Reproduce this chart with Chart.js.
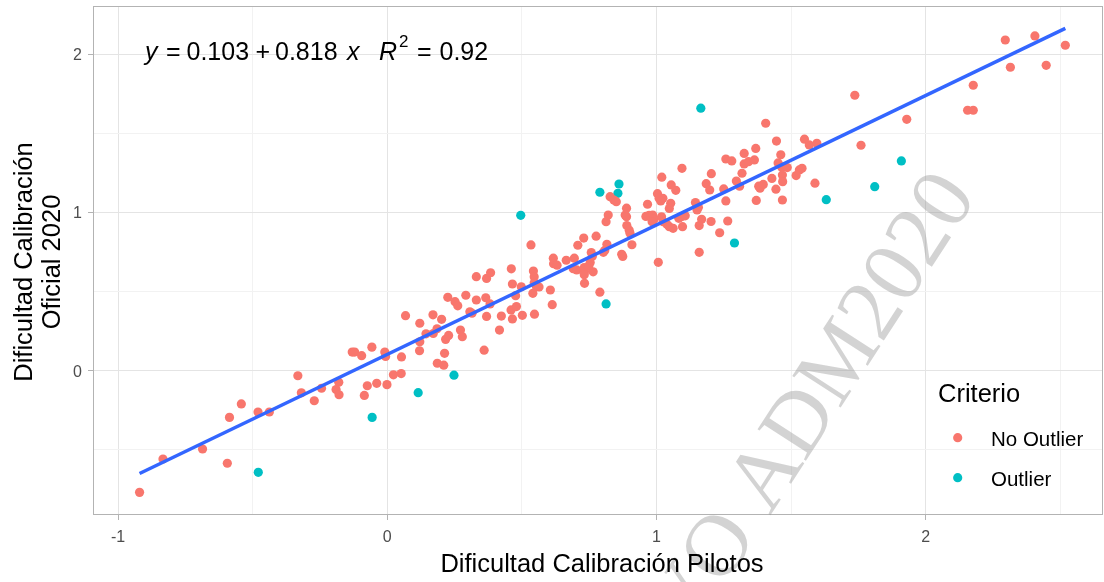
<!DOCTYPE html>
<html>
<head>
<meta charset="utf-8">
<script src="https://cdn.jsdelivr.net/npm/chart.js@4.4.1/dist/chart.umd.min.js"></script>
<style>
html, body { margin: 0; padding: 0; background: #fff; }
</style>
</head>
<body>
<canvas id="chart-calibracion" width="1104" height="582"></canvas>
<script>
// Criterio (leyenda)
const criterios = ['No Outlier', 'Outlier'];
const coloresCriterio = ['#F8766D', '#00BFC4'];

// Dificultad pilotos (x) y oficial 2020 (y)
const pilotosNoOutlier = [
    -0.920, -0.833, -0.686, -0.594, -0.586, -0.542, -0.480, -0.438, -0.332, -0.319,
    -0.271, -0.244, -0.180, -0.190, -0.179, -0.085, -0.074, -0.039, -0.001, 0.023,
    0.052, -0.130, -0.121, -0.095, -0.057, -0.009, -0.006, 0.053, 0.068, 0.121,
    0.121, 0.120, 0.144, 0.170, 0.171, 0.185, 0.202, 0.186, 0.210, 0.213,
    0.217, 0.228, 0.272, 0.279, 0.225, 0.252, 0.262, 0.292, 0.307, 0.315,
    0.331, 0.331, 0.360, 0.369, 0.369, 0.384, 0.366, 0.382, 0.417, 0.424,
    0.461, 0.465, 0.477, 0.460, 0.480, 0.465, 0.502, 0.498, 0.534, 0.543,
    0.546, 0.546, 0.554, 0.564, 0.541, 0.547, 0.606, 0.613, 0.617, 0.618,
    0.631, 0.665, 0.695, 0.691, 0.704, 0.732, 0.733, 0.732, 0.733, 0.765,
    0.790, 0.758, 0.762, 0.754, 0.749, 0.776, 0.730, 0.708, 0.816, 0.808,
    0.803, 0.871, 0.875, 0.909, 0.902, 0.899, 0.890, 0.889, 0.884, 0.889,
    0.813, 0.821, 0.828, 0.842, 0.851, 1.007, 0.967, 0.961, 0.973, 0.986,
    0.991, 0.984, 1.004, 1.010, 1.024, 1.016, 1.020, 1.055, 1.072, 1.095,
    1.019, 1.025, 1.039, 1.048, 1.062, 1.053, 1.048, 1.083, 1.093, 1.107,
    1.097, 1.145, 1.156, 1.151, 1.168, 1.203, 1.159, 1.235, 1.265, 1.258,
    1.250, 1.185, 1.198, 1.204, 1.159, 1.258, 1.280, 1.297, 1.309, 1.318,
    1.326, 1.326, 1.342, 1.364, 1.369, 1.371, 1.380, 1.385, 1.397, 1.429,
    1.444, 1.446, 1.406, 1.468, 1.452, 1.465, 1.462, 1.486, 1.468, 1.469,
    1.519, 1.531, 1.541, 1.589, 1.550, 1.568, 1.596, 1.737, 1.760, 1.930,
    2.156, 2.177, 2.177, 2.296, 2.315, 2.406, 2.448, 2.519
];
const oficialNoOutlier = [
    -0.769, -0.558, -0.495, -0.585, -0.295, -0.210, -0.261, -0.261, -0.032, -0.140,
    -0.190, -0.111, -0.073, -0.119, -0.152, -0.156, -0.095, -0.080, -0.088, -0.026,
    -0.018, 0.118, 0.118, 0.095, 0.149, 0.118, 0.090, 0.087, 0.348, 0.300,
    0.183, 0.126, 0.233, 0.353, 0.235, 0.265, 0.325, 0.047, 0.035, 0.110,
    0.198, 0.223, 0.257, 0.215, 0.464, 0.436, 0.410, 0.477, 0.372, 0.363,
    0.594, 0.447, 0.130, 0.343, 0.583, 0.619, 0.461, 0.422, 0.257, 0.345,
    0.644, 0.548, 0.474, 0.384, 0.405, 0.327, 0.350, 0.530, 0.795, 0.630,
    0.594, 0.556, 0.532, 0.529, 0.489, 0.357, 0.510, 0.417, 0.711, 0.676,
    0.667, 0.698, 0.711, 0.645, 0.637, 0.652, 0.627, 0.607, 0.552, 0.625,
    0.496, 0.747, 0.723, 0.684, 0.662, 0.850, 0.838, 0.793, 0.799, 0.760,
    0.748, 0.736, 0.722, 0.796, 0.869, 0.888, 0.917, 0.973, 0.984, 1.027,
    0.942, 0.984, 1.100, 1.079, 1.068, 0.685, 1.052, 0.975, 0.982, 0.984,
    0.956, 0.942, 1.119, 1.090, 1.090, 1.073, 1.223, 1.174, 1.140, 1.279,
    0.973, 0.942, 0.925, 0.910, 0.900, 1.058, 1.025, 0.963, 0.973, 0.979,
    0.910, 1.063, 1.033, 1.016, 0.957, 0.943, 0.917, 0.872, 0.946, 1.073,
    1.149, 1.182, 1.142, 1.245, 0.748, 1.338, 1.326, 1.199, 1.166, 1.248,
    1.373, 1.307, 1.321, 1.332, 1.405, 1.076, 1.166, 1.153, 1.177, 1.215,
    1.147, 1.451, 1.564, 1.079, 1.313, 1.288, 1.365, 1.284, 1.237, 1.195,
    1.233, 1.269, 1.279, 1.185, 1.463, 1.427, 1.437, 1.741, 1.425, 1.589,
    1.646, 1.646, 1.804, 2.090, 1.918, 2.116, 1.930, 2.057
];
const pilotosOutlier = [-0.479, -0.056, 0.115, 0.248, 0.496, 0.790, 0.861, 0.857, 0.813, 1.165, 1.290, 1.631, 1.811, 1.910];
const oficialOutlier = [-0.642, -0.295, -0.139, -0.028, 0.982, 1.128, 1.180, 1.121, 0.422, 1.659, 0.807, 1.081, 1.163, 1.326];

// Ajuste lineal mostrado en el grafico
const intercepto = 0.103;
const pendiente = 0.818;
const r2 = 0.92;

// Marcas de los ejes
const ticksX = [-1, 0, 1, 2];
const ticksMenoresX = [-0.5, 0.5, 1.5, 2.5];
const ticksY = [0, 1, 2];
const ticksMenoresY = [-0.5, 0.5, 1.5];

const fuente = '"Liberation Sans", Arial, sans-serif';

function puntos(xs, ys) {
    return xs.map((x, i) => ({x: x, y: ys[i]}));
}

const todosX = pilotosNoOutlier.concat(pilotosOutlier);
const xMin = Math.min(...todosX);
const xMax = Math.max(...todosX);
const recta = [
    {x: xMin, y: intercepto + pendiente * xMin},
    {x: xMax, y: intercepto + pendiente * xMax}
];

function esMayor(v, mayores) {
    return mayores.indexOf(v) >= 0;
}

const extras = {
    id: 'extras',
    afterDraw(chart) {
        const ctx = chart.ctx;
        const a = chart.chartArea;
        ctx.save();

        // borde del panel
        ctx.strokeStyle = '#B3B3B3';
        ctx.lineWidth = 1;
        ctx.strokeRect(Math.round(a.left) + 0.5, Math.round(a.top) + 0.5,
            Math.round(a.right - a.left) - 1, Math.round(a.bottom - a.top) - 1);

        // marca de agua
        ctx.save();
        ctx.translate(770, 516);
        ctx.rotate(-57 * Math.PI / 180);
        ctx.font = '88px "Liberation Serif", serif';
        ctx.fillStyle = 'rgba(150,150,150,0.42)';
        ctx.textBaseline = 'alphabetic';
        ctx.textAlign = 'left';
        ctx.fillText('ADM2020', 0, 0);
        ctx.textAlign = 'right';
        ctx.fillText('USO EXCLUSIVO ', 0, 0);
        ctx.restore();

        // ecuacion
        ctx.fillStyle = '#000';
        ctx.textAlign = 'left';
        ctx.textBaseline = 'alphabetic';
        const normal = '25px ' + fuente;
        const italica = 'italic 25px ' + fuente;
        const yBase = 59.5;
        const piezas = [
            ['y', italica, 145],
            ['=', normal, 166],
            [intercepto.toFixed(3), normal, 186.5],
            ['+', normal, 255.5],
            [pendiente.toFixed(3), normal, 275],
            ['x', italica, 347],
            ['R', italica, 379],
            ['=', normal, 417],
            [r2.toFixed(2), normal, 439.5]
        ];
        piezas.forEach(p => {
            ctx.font = p[1];
            ctx.fillText(p[0], p[2], yBase);
        });
        ctx.font = '17px ' + fuente;
        ctx.fillText('2', 399, yBase - 12.5);

        // titulos de ejes
        ctx.font = '25.5px ' + fuente;
        ctx.textAlign = 'center';
        ctx.fillText('Dificultad Calibración Pilotos', 602, 572);
        ctx.save();
        ctx.translate(31.7, 262);
        ctx.rotate(-Math.PI / 2);
        ctx.fillText('Dificultad Calibración', 0, 0);
        ctx.fillText('Oficial 2020', 0, 28.3);
        ctx.restore();

        // leyenda
        ctx.textAlign = 'left';
        ctx.font = '25.5px ' + fuente;
        ctx.fillText('Criterio', 938, 402);
        ctx.font = '20.5px ' + fuente;
        criterios.forEach((c, i) => {
            const yc = 437.7 + i * 40;
            ctx.fillStyle = coloresCriterio[i];
            ctx.beginPath();
            ctx.arc(957.7, yc, 4.6, 0, Math.PI * 2);
            ctx.fill();
            ctx.fillStyle = '#000';
            ctx.fillText(c, 991, yc + 8);
        });
        ctx.restore();
    }
};

const ctx1 = document.getElementById('chart-calibracion').getContext('2d');
Chart.defaults.font.family = fuente;

const myChart = new Chart(ctx1, {
    type: 'scatter',
    data: {
        datasets: [
            {
                type: 'line',
                label: 'ajuste',
                data: recta,
                borderColor: '#3366FF',
                borderWidth: 3.5,
                pointRadius: 0,
                fill: false
            },
            {
                label: criterios[0],
                data: puntos(pilotosNoOutlier, oficialNoOutlier),
                backgroundColor: coloresCriterio[0],
                borderWidth: 0,
                pointRadius: 4.6
            },
            {
                label: criterios[1],
                data: puntos(pilotosOutlier, oficialOutlier),
                backgroundColor: coloresCriterio[1],
                borderWidth: 0,
                pointRadius: 4.6
            }
        ]
    },
    options: {
        responsive: false,
        animation: false,
        events: [],
        layout: {
            autoPadding: false,
            padding: {top: 6, right: 1, left: 0, bottom: 0}
        },
        plugins: {
            legend: {display: false},
            tooltip: {enabled: false},
            title: {display: false}
        },
        scales: {
            x: {
                type: 'linear',
                min: -1.093,
                max: 2.659,
                afterBuildTicks: s => {
                    s.ticks = ticksX.concat(ticksMenoresX).sort((p, q) => p - q).map(v => ({value: v}));
                },
                afterFit: s => {
                    s.height = 67;
                    s.paddingLeft = 0;
                    s.paddingRight = 0;
                },
                border: {display: false},
                grid: {
                    color: c => esMayor(c.tick.value, ticksX) ? '#E4E4E4' : '#F2F2F2',
                    lineWidth: 1,
                    tickLength: 5,
                    tickColor: c => esMayor(c.tick.value, ticksX) ? '#B3B3B3' : 'rgba(0,0,0,0)'
                },
                ticks: {
                    autoSkip: false,
                    maxRotation: 0,
                    padding: 8,
                    color: '#4D4D4D',
                    font: {size: 16},
                    callback: v => esMayor(v, ticksX) ? String(v) : ''
                }
            },
            y: {
                type: 'linear',
                min: -0.912,
                max: 2.305,
                afterBuildTicks: s => {
                    s.ticks = ticksY.concat(ticksMenoresY).sort((p, q) => p - q).map(v => ({value: v}));
                },
                afterFit: s => {
                    s.width = 93;
                    s.paddingTop = 0;
                    s.paddingBottom = 0;
                },
                border: {display: false},
                grid: {
                    color: c => esMayor(c.tick.value, ticksY) ? '#E4E4E4' : '#F2F2F2',
                    lineWidth: 1,
                    tickLength: 5,
                    tickColor: c => esMayor(c.tick.value, ticksY) ? '#B3B3B3' : 'rgba(0,0,0,0)'
                },
                ticks: {
                    autoSkip: false,
                    padding: 6,
                    labelOffset: 1.5,
                    color: '#4D4D4D',
                    font: {size: 16},
                    callback: v => esMayor(v, ticksY) ? String(v) : ''
                }
            }
        }
    },
    plugins: [extras]
});
</script>
</body>
</html>
